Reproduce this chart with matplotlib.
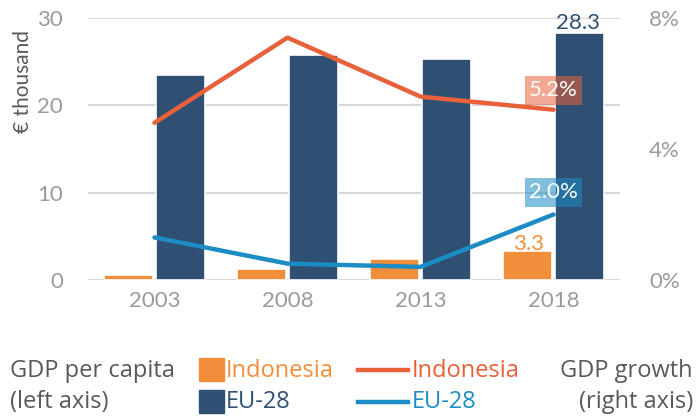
import matplotlib
matplotlib.use("Agg")
import matplotlib.pyplot as plt
from matplotlib.patches import Rectangle
from matplotlib.lines import Line2D
import numpy as np

plt.rcParams['font.family'] = ['Lato', 'DejaVu Sans']

years = ['2003', '2008', '2013', '2018']
gdp_pc_indonesia = [0.6, 1.3, 2.4, 3.3]
gdp_pc_eu = [23.5, 25.8, 25.3, 28.3]
growth_indonesia = [4.8, 7.4, 5.6, 5.2]
growth_eu = [1.3, 0.5, 0.4, 2.0]

c_ind_bar = '#F28E3A'
c_eu_bar = '#2F5072'
c_ind_line = '#E8613A'
c_eu_line = '#1C8CC4'
c_tick = '#9A9A9A'
c_text = '#595959'

W, H = 696, 418
fig = plt.figure(figsize=(W / 100, H / 100), dpi=100)
ax = fig.add_axes([88 / W, 1 - 280 / H, 532 / W, 262 / H])
ax2 = ax.twinx()

x = np.arange(len(years))
bw = 0.37
ax.bar(x - bw / 2 - 0.01, gdp_pc_indonesia, bw, color=c_ind_bar, edgecolor='white', linewidth=1.2, zorder=3)
ax.bar(x + bw / 2 + 0.01, gdp_pc_eu, bw, color=c_eu_bar, edgecolor='white', linewidth=1.2, zorder=3)

ax.set_xlim(-0.5, 3.5)
ax.set_ylim(0, 30)
ax.set_yticks([0, 10, 20, 30])
ax.set_xticks(x)
ax.set_xticklabels(years)
ax.grid(axis='y', color='#D9D9D9', linewidth=1.5, zorder=0)
ax.set_axisbelow(True)
for s in ax.spines.values():
    s.set_visible(False)
for s in ax2.spines.values():
    s.set_visible(False)
ax.tick_params(axis='both', length=0, labelsize=16, colors=c_tick, pad=8)
ax.tick_params(axis='y', pad=18)
ax.set_ylabel('€ thousand', fontsize=15, color=c_text)
ax.yaxis.set_label_coords(-0.103, 0.756)

ax2.plot(x, growth_indonesia, color=c_ind_line, linewidth=3.2, solid_capstyle='round', zorder=4)
ax2.plot(x, growth_eu, color=c_eu_line, linewidth=3.2, solid_capstyle='round', zorder=4)
ax2.set_ylim(0, 8)
ax2.set_yticks([0, 4, 8])
ax2.set_yticklabels(['0%', '4%', '8%'])
ax2.tick_params(axis='y', length=0, labelsize=16, colors=c_tick, pad=21)

# value labels
ax.annotate(f'{gdp_pc_eu[-1]:.1f}', (x[-1] + bw / 2, gdp_pc_eu[-1]), xytext=(0, 0),
            textcoords='offset points', ha='center', va='bottom', fontsize=16, color=c_eu_bar)
ax.annotate(f'{gdp_pc_indonesia[-1]:.1f}', (x[-1] - bw / 2, gdp_pc_indonesia[-1]), xytext=(0, -2),
            textcoords='offset points', ha='center', va='bottom', fontsize=16, color=c_ind_bar)
ax2.annotate(f'{growth_indonesia[-1]:.1f}%', (x[-1], growth_indonesia[-1]), xytext=(0, 14),
             textcoords='offset points', ha='center', va='center', fontsize=16, color='white', zorder=6,
             bbox=dict(boxstyle='square,pad=0.2', fc=c_ind_line, ec='none', alpha=0.55))
ax2.annotate(f'{growth_eu[-1]:.1f}%', (x[-1], growth_eu[-1]), xytext=(0, 16),
             textcoords='offset points', ha='center', va='center', fontsize=16, color='white', zorder=6,
             bbox=dict(boxstyle='square,pad=0.2', fc=c_eu_line, ec='none', alpha=0.55))

# legend drawn in figure coordinates
def fx(px):
    return px / W

def fy(py):
    return 1 - py / H

lf = dict(fontsize=17, family=['Open Sans', 'DejaVu Sans'], va='center')
fig.text(fx(10), fy(371), 'GDP per capita', color=c_text, ha='left', **lf)
fig.text(fx(10), fy(402), '(left axis)', color=c_text, ha='left', **lf)
fig.text(fx(693), fy(371), 'GDP growth', color=c_text, ha='right', **lf)
fig.text(fx(693), fy(402), '(right axis)', color=c_text, ha='right', **lf)

fig.add_artist(Rectangle((fx(199), fy(381)), 25 / W, 23 / H, transform=fig.transFigure, color=c_ind_bar))
fig.add_artist(Rectangle((fx(199), fy(413)), 25 / W, 23 / H, transform=fig.transFigure, color=c_eu_bar))
fig.text(fx(226), fy(371), 'Indonesia', color=c_ind_bar, ha='left', **lf)
fig.text(fx(226), fy(402), 'EU-28', color=c_eu_bar, ha='left', **lf)

fig.add_artist(Line2D([fx(358), fx(408)], [fy(370), fy(370)], transform=fig.transFigure,
                      color=c_ind_line, linewidth=3.2))
fig.add_artist(Line2D([fx(358), fx(408)], [fy(402), fy(402)], transform=fig.transFigure,
                      color=c_eu_line, linewidth=3.2))
fig.text(fx(412), fy(371), 'Indonesia', color=c_ind_line, ha='left', **lf)
fig.text(fx(412), fy(402), 'EU-28', color=c_eu_line, ha='left', **lf)

fig.savefig('out.png', dpi=100)
